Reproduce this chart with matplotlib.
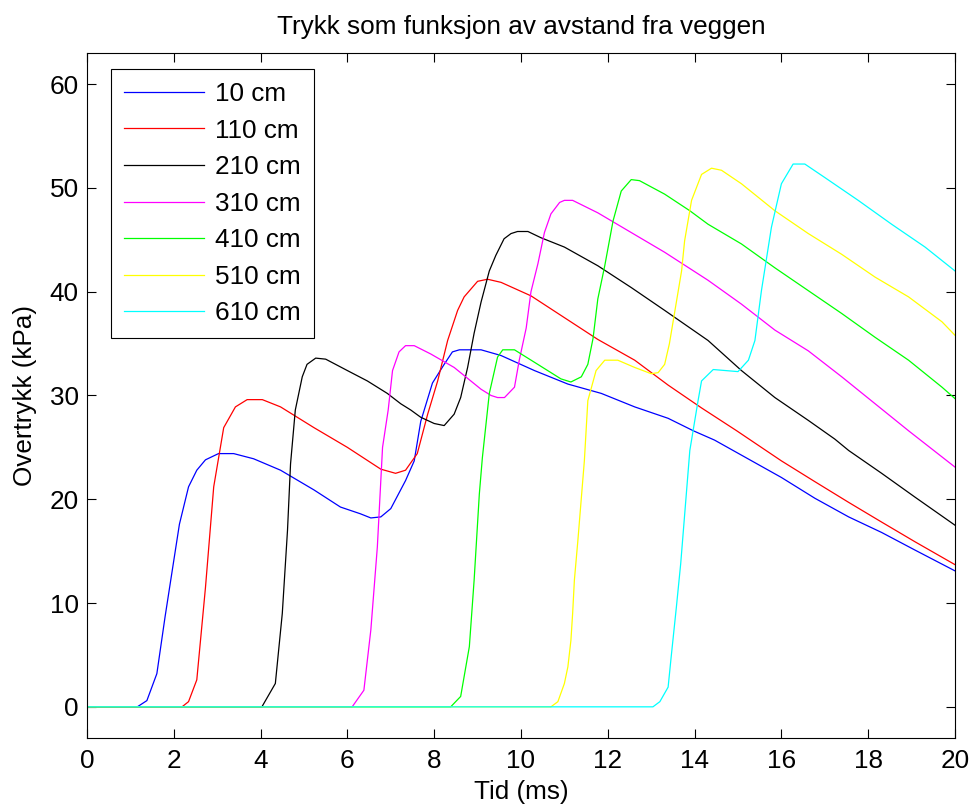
import matplotlib
matplotlib.use("Agg")
import matplotlib.pyplot as plt

plt.rcParams['font.family'] = ['Liberation Sans', 'DejaVu Sans']

# trykk (kPa) mot tid (ms), lest av figuren
t_10 = [0, 1.16, 1.38, 1.61, 1.80, 2.0, 2.13, 2.34, 2.53, 2.73, 3.03, 3.38, 3.84, 4.46, 5.23, 5.84,
        6.30, 6.54, 6.77, 7.0, 7.34, 7.54, 7.69, 7.96, 8.23, 8.42, 8.58, 9.08, 9.54, 10.31, 11.08,
        11.85, 12.62, 13.39, 13.97, 14.46, 15.23, 16.0, 16.77, 17.55, 18.31, 19.08, 20.0]
p_10 = [0, 0, 0.6, 3.2, 8.7, 14.1, 17.6, 21.2, 22.8, 23.8, 24.4, 24.4, 23.9, 22.8, 20.9, 19.25,
        18.6, 18.2, 18.3, 19.1, 21.8, 23.7, 27.5, 31.2, 33.0, 34.2, 34.4, 34.4, 33.85, 32.4, 31.1,
        30.2, 28.9, 27.8, 26.6, 25.7, 23.9, 22.1, 20.1, 18.3, 16.8, 15.1, 13.1]

t_110 = [0, 2.19, 2.34, 2.53, 2.73, 2.92, 3.15, 3.42, 3.69, 4.04, 4.46, 5.23, 6.0, 6.77, 7.11, 7.34,
         7.61, 7.85, 8.08, 8.31, 8.54, 8.69, 9.0, 9.23, 9.54, 10.23, 11.0, 11.77, 12.62, 13.39,
         14.16, 14.97, 16.0, 16.77, 17.55, 18.31, 19.08, 20.0]
p_110 = [0, 0, 0.5, 2.6, 11.5, 21.2, 26.9, 28.9, 29.6, 29.6, 28.9, 26.9, 25.0, 22.9, 22.5, 22.8,
         24.4, 28.2, 31.4, 35.3, 38.2, 39.5, 41.0, 41.2, 40.9, 39.6, 37.5, 35.4, 33.4, 31.0,
         28.8, 26.6, 23.7, 21.7, 19.7, 17.8, 15.9, 13.7]

t_210 = [0, 4.03, 4.34, 4.50, 4.62, 4.69, 4.80, 4.96, 5.07, 5.27, 5.50, 6.0, 6.46, 6.92, 7.23, 7.46,
         7.69, 8.0, 8.23, 8.46, 8.61, 8.77, 8.92, 9.08, 9.27, 9.42, 9.61, 9.77, 9.92, 10.16, 10.46,
         11.0, 11.77, 12.54, 13.31, 14.31, 15.08, 15.85, 16.62, 17.23, 17.55, 18.31, 19.08, 20.0]
p_210 = [0, 0, 2.25, 9.0, 17.0, 23.4, 28.6, 31.8, 33.0, 33.6, 33.5, 32.4, 31.4, 30.2, 29.2, 28.6,
         27.9, 27.3, 27.1, 28.2, 29.8, 32.7, 36.0, 39.0, 42.0, 43.5, 45.1, 45.6, 45.8, 45.8, 45.2,
         44.3, 42.5, 40.4, 38.2, 35.3, 32.4, 29.8, 27.6, 25.8, 24.7, 22.5, 20.2, 17.5]

t_310 = [0, 6.11, 6.38, 6.54, 6.69, 6.81, 6.94, 7.04, 7.19, 7.34, 7.54, 7.92, 8.46, 9.08, 9.31, 9.46,
         9.62, 9.85, 9.96, 10.12, 10.23, 10.39, 10.54, 10.69, 10.89, 11.0, 11.19, 11.77, 12.54,
         13.31, 14.31, 15.08, 15.85, 16.62, 17.39, 18.16, 18.93, 20.0]
p_310 = [0, 0, 1.6, 7.4, 15.4, 25.0, 28.6, 32.4, 34.2, 34.8, 34.8, 34.0, 32.7, 30.6, 30.0, 29.8,
         29.8, 30.8, 33.4, 36.5, 40.0, 42.7, 45.7, 47.5, 48.6, 48.8, 48.8, 47.6, 45.7,
         43.8, 41.1, 38.8, 36.3, 34.3, 31.8, 29.2, 26.6, 23.1]

t_410 = [0, 8.38, 8.61, 8.81, 8.92, 9.04, 9.11, 9.27, 9.46, 9.58, 9.85, 10.31, 10.92, 11.15, 11.39,
         11.54, 11.66, 11.77, 11.93, 12.12, 12.31, 12.54, 12.73, 13.31, 13.89, 14.31, 15.08, 15.85,
         16.62, 17.39, 18.16, 18.93, 19.70, 20.0]
p_410 = [0, 0, 1.0, 5.8, 12.2, 20.5, 24.0, 30.2, 33.7, 34.4, 34.4, 33.2, 31.6, 31.3, 31.8,
         33.0, 35.5, 39.3, 42.5, 46.8, 49.7, 50.8, 50.7, 49.4, 47.8, 46.5, 44.6, 42.3,
         40.1, 37.9, 35.6, 33.4, 30.8, 29.7]

t_510 = [0, 10.69, 10.85, 11.0, 11.08, 11.15, 11.19, 11.23, 11.31, 11.46, 11.54, 11.73, 11.93, 12.23,
         12.62, 13.0, 13.16, 13.31, 13.42, 13.54, 13.70, 13.77, 13.93, 14.16, 14.39, 14.62, 15.08,
         15.85, 16.62, 17.39, 18.16, 18.93, 19.70, 20.0]
p_510 = [0, 0, 0.5, 2.25, 3.85, 6.4, 9.0, 12.2, 16.0, 23.7, 29.5, 32.4, 33.4, 33.4,
         32.7, 32.1, 32.2, 33.0, 35.0, 38.0, 42.0, 44.9, 48.8, 51.3, 51.9, 51.7, 50.4,
         47.8, 45.6, 43.6, 41.4, 39.5, 37.1, 35.8]

t_610 = [0, 13.04, 13.2, 13.39, 13.46, 13.58, 13.68, 13.89, 14.08, 14.16, 14.43, 15.0, 15.24, 15.39,
         15.54, 15.77, 16.0, 16.27, 16.54, 17.0, 17.77, 18.54, 19.31, 20.0]
p_610 = [0, 0, 0.5, 1.9, 4.8, 9.6, 13.8, 24.7, 29.5, 31.4, 32.5, 32.3, 33.4, 35.3,
         40.1, 46.2, 50.4, 52.3, 52.3, 51.0, 48.8, 46.5, 44.3, 42.0]

labels = ['10 cm', '110 cm', '210 cm', '310 cm', '410 cm', '510 cm', '610 cm']
# MATLAB-farger b r k m g y c
colors = ['#0000ff', '#ff0000', '#000000', '#ff00ff', '#00ff00', '#ffff00', '#00ffff']
series = [(t_10, p_10), (t_110, p_110), (t_210, p_210), (t_310, p_310),
          (t_410, p_410), (t_510, p_510), (t_610, p_610)]

fs = 18.8

fig = plt.figure(figsize=(9.73, 8.09), dpi=100)
ax = fig.add_axes([0.0894, 0.0878, 0.8921, 0.8467])

for (t, p), c, lab in zip(series, colors, labels):
    ax.plot(t, p, color=c, lw=0.9, label=lab)

ax.set_xlim(0, 20)
ax.set_ylim(-3, 63)
ax.set_xticks(range(0, 21, 2))
ax.set_yticks(range(0, 61, 10))
ax.tick_params(direction='in', top=True, right=True, length=6.5, width=0.8,
               labelsize=fs, pad=8)
ax.tick_params(axis='y', pad=6)
for s in ax.spines.values():
    s.set_linewidth(0.8)

ax.set_xlabel('Tid (ms)', fontsize=fs, labelpad=5)
ax.set_ylabel('Overtrykk (kPa)', fontsize=fs, labelpad=9)
ax.set_title('Trykk som funksjon av avstand fra veggen', fontsize=fs, pad=14)

leg = ax.legend(loc='upper left', bbox_to_anchor=(0.0276, 0.9766), borderaxespad=0,
                fontsize=fs, fancybox=False, edgecolor='k', framealpha=1,
                handlelength=3.08, handletextpad=0.4, labelspacing=0.48, borderpad=0.5)
leg.get_frame().set_linewidth(0.8)

fig.savefig('out.png', dpi=100)
